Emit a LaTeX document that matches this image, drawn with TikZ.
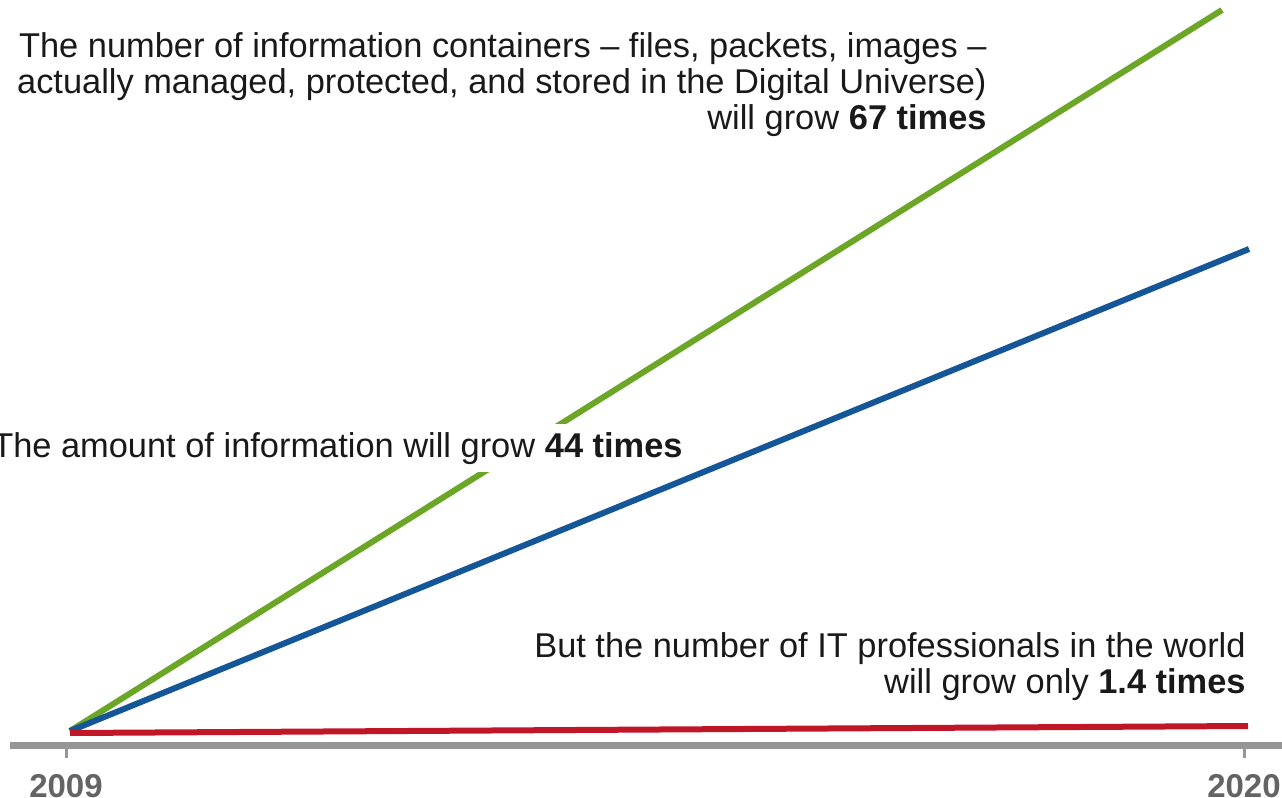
\documentclass[tikz,border=0pt]{standalone}
\usepackage{fontspec}
\setmainfont{Liberation Sans}
\definecolor{cgreen}{RGB}{108,166,38}
\definecolor{cblue}{RGB}{20,86,152}
\definecolor{cred}{RGB}{192,22,40}
\definecolor{caxis}{RGB}{150,150,150}
\definecolor{cyear}{RGB}{100,100,100}
\definecolor{ctext}{RGB}{25,25,25}
\begin{document}
\begin{tikzpicture}[x=0.5pt,y=-0.5pt,
  series/.style={line width=3pt,line cap=butt},
  axisline/.style={caxis,line width=3.5pt},
  tickline/.style={caxis,line width=1.5pt},
  yearlabel/.style={font=\fontsize{16.5}{18}\selectfont\bfseries,text=cyear,inner sep=0pt},
  note/.style={font=\fontsize{17.2}{18}\selectfont,text=ctext,inner sep=0pt,align=right}]
\useasboundingbox (0,0) rectangle (1282,798);
\coordinate (o) at (70,731);
\coordinate (g) at (1222,10);
\coordinate (b) at (1249,249);
\coordinate (r0) at (70,733);
\coordinate (r) at (1248,726);
\coordinate (axL) at (10,745.5);
\coordinate (axR) at (1282,745.5);
\coordinate (t1) at (66,745.5);
\coordinate (t2) at (1244,745.5);
\coordinate (t1b) at (66,758);
\coordinate (t2b) at (1244,758);
% axis
\draw[axisline] (axL) -- (axR);
\draw[tickline] (t1) -- (t1b);
\draw[tickline] (t2) -- (t2b);
\node[yearlabel] (y1) at (66,786) {2009};
\node[yearlabel] (y2) at (1244,786) {2020};
% series
\draw[series,cgreen] (o) -- (g);
\draw[series,cblue] (o) -- (b);
\draw[series,cred] (r0) -- (r);
% notes
\node[note,anchor=north east] (n1) at (987,32) {The number of information containers -- files, packets, images --\\actually managed, protected, and stored in the Digital Universe)\\will grow \textbf{67 times}};
\node[note,anchor=base east,fill=white,inner xsep=4pt,inner ysep=4pt] (n2) at (691,457) {The amount of information will grow \textbf{44 times}};
\node[note,anchor=north east] (n3) at (1246,632) {But the number of IT professionals in the world\\will grow only \textbf{1.4 times}};
\end{tikzpicture}
\end{document}
